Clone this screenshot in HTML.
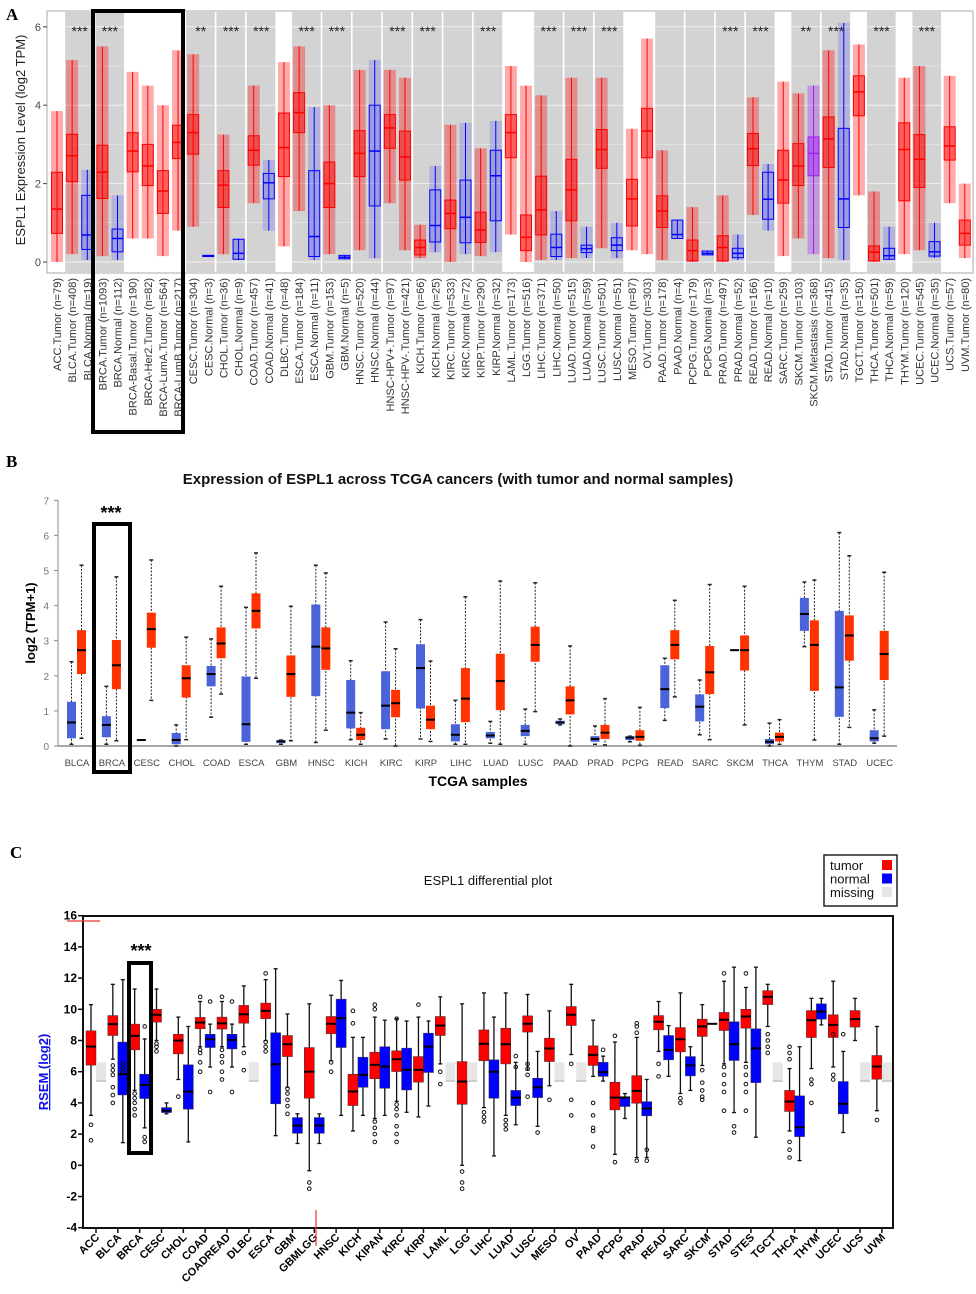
<!DOCTYPE html>
<html><head><meta charset="utf-8"><style>
html,body{margin:0;padding:0;background:#fff;}
svg{display:block;font-family:"Liberation Sans",sans-serif;}
</style></head><body>
<svg id="fig" width="976" height="1294" viewBox="0 0 976 1294" xmlns="http://www.w3.org/2000/svg">
<text x="6" y="20" font-family="Liberation Serif" font-weight="bold" font-size="17">A</text>
<text x="6" y="467" font-family="Liberation Serif" font-weight="bold" font-size="17">B</text>
<text x="10" y="858" font-family="Liberation Serif" font-weight="bold" font-size="17">C</text>
<g id="gA"></g>
<g id="gB"></g>
<g id="gC"></g>
</svg>
<script>
// ---------- Panel A data ----------
const aLab=["ACC.Tumor (n=79)","BLCA.Tumor (n=408)","BLCA.Normal (n=19)","BRCA.Tumor (n=1093)","BRCA.Normal (n=112)","BRCA-Basal.Tumor (n=190)","BRCA-Her2.Tumor (n=82)","BRCA-LumA.Tumor (n=564)","BRCA-LumB.Tumor (n=217)","CESC.Tumor (n=304)","CESC.Normal (n=3)","CHOL.Tumor (n=36)","CHOL.Normal (n=9)","COAD.Tumor (n=457)","COAD.Normal (n=41)","DLBC.Tumor (n=48)","ESCA.Tumor (n=184)","ESCA.Normal (n=11)","GBM.Tumor (n=153)","GBM.Normal (n=5)","HNSC.Tumor (n=520)","HNSC.Normal (n=44)","HNSC-HPV+.Tumor (n=97)","HNSC-HPV-.Tumor (n=421)","KICH.Tumor (n=66)","KICH.Normal (n=25)","KIRC.Tumor (n=533)","KIRC.Normal (n=72)","KIRP.Tumor (n=290)","KIRP.Normal (n=32)","LAML.Tumor (n=173)","LGG.Tumor (n=516)","LIHC.Tumor (n=371)","LIHC.Normal (n=50)","LUAD.Tumor (n=515)","LUAD.Normal (n=59)","LUSC.Tumor (n=501)","LUSC.Normal (n=51)","MESO.Tumor (n=87)","OV.Tumor (n=303)","PAAD.Tumor (n=178)","PAAD.Normal (n=4)","PCPG.Tumor (n=179)","PCPG.Normal (n=3)","PRAD.Tumor (n=497)","PRAD.Normal (n=52)","READ.Tumor (n=166)","READ.Normal (n=10)","SARC.Tumor (n=259)","SKCM.Tumor (n=103)","SKCM.Metastasis (n=368)","STAD.Tumor (n=415)","STAD.Normal (n=35)","TGCT.Tumor (n=150)","THCA.Tumor (n=501)","THCA.Normal (n=59)","THYM.Tumor (n=120)","UCEC.Tumor (n=545)","UCEC.Normal (n=35)","UCS.Tumor (n=57)","UVM.Tumor (n=80)"];
const aType="TTNTNTTTTTNTNTNTTNTNTNTTTNTNTNTTTNTNTNTTTNTNTNTNTTMTNTTNTTNTT";
const aQ1=[0.73,2.05,0.32,1.62,0.26,2.3,1.95,1.24,2.64,2.75,0.14,1.39,0.07,2.47,1.61,2.18,3.3,0.14,1.39,0.08,2.18,1.43,2.9,2.09,0.18,0.51,0.85,0.49,0.5,1.05,2.66,0.29,0.69,0.14,1.05,0.24,2.39,0.29,0.92,2.66,0.88,0.6,0.03,0.18,0.03,0.11,2.46,1.09,1.5,1.95,2.2,2.41,0.88,3.73,0.03,0.07,1.56,1.9,0.15,2.6,0.43];
const aMed=[1.35,2.71,0.69,2.29,0.6,2.83,2.45,1.81,3.05,3.3,0.16,1.96,0.22,2.85,2.02,2.92,3.81,0.65,2.0,0.12,2.77,2.83,3.42,2.68,0.37,0.93,1.24,1.14,0.82,2.2,3.3,0.63,1.33,0.37,1.84,0.34,2.87,0.43,1.61,3.34,1.3,0.7,0.29,0.22,0.37,0.22,2.89,1.6,2.09,2.45,2.77,3.14,1.61,4.34,0.25,0.16,2.87,2.62,0.26,2.96,0.73];
const aQ3=[2.29,3.26,1.7,2.98,0.84,3.3,3.0,2.33,3.49,3.76,0.17,2.33,0.58,3.22,2.26,3.8,4.32,2.33,2.55,0.17,3.35,4.0,3.76,3.34,0.56,1.84,1.58,2.09,1.27,2.85,3.76,1.2,2.19,0.71,2.62,0.43,3.38,0.62,2.11,3.92,1.69,1.07,0.56,0.28,0.67,0.35,3.28,2.29,2.85,3.02,3.19,3.7,3.41,4.75,0.41,0.35,3.55,3.25,0.52,3.45,1.07];
const aLo=[0,0.2,0.05,0.15,0.05,0.6,0.6,0.15,0.8,0.9,0.14,0.2,0.05,1.5,0.8,0.4,1.3,0.05,0.2,0.08,0.3,0.1,1.5,0.3,0.1,0.25,0,0.2,0.15,0.25,0.7,0,0.05,0.05,0.1,0.1,0.35,0.1,0.3,0.2,0.05,0.6,0,0.18,0,0.05,1.2,0.8,0.15,0.6,0.2,0.1,0.05,1.7,0,0.05,0.2,0.3,0.1,1.5,0.1];
const aHi=[3.85,5.15,2.35,5.5,1.7,4.85,4.5,4.0,5.4,5.3,0.17,3.25,0.6,4.5,2.6,5.1,5.5,3.95,4.0,0.17,4.9,5.15,4.9,4.7,0.95,2.45,3.5,3.55,2.9,3.6,5.0,4.5,4.25,1.3,4.7,0.9,4.7,1.0,3.4,5.7,2.85,1.07,1.4,0.28,1.7,0.7,4.2,2.5,4.6,4.3,4.5,5.4,6.1,5.55,1.8,0.9,4.7,5.0,1.0,4.75,2.0];
const aBands=[1,3,9,11,13,16,18,20,22,24,26,28,32,34,36,40,42,44,46,49,51,54,57];
const aStarIdx=[1,3,9,11,13,16,18,22,24,28,32,34,36,44,46,49,51,54,57];
const aStarTxt=["***","***","**","***","***","***","***","***","***","***","***","***","***","***","***","**","***","***","***"];
const aTicks=[0,2,4,6];

// ---------- Panel B data ----------
const bLab=["BLCA","BRCA","CESC","CHOL","COAD","ESCA","GBM","HNSC","KICH","KIRC","KIRP","LIHC","LUAD","LUSC","PAAD","PRAD","PCPG","READ","SARC","SKCM","THCA","THYM","STAD","UCEC"];
const bNq1=[0.22,0.25,0.17,0.05,1.7,0.12,0.08,1.42,0.5,0.48,1.07,0.13,0.22,0.28,0.62,0.12,0.17,1.08,0.7,2.73,0.05,3.28,0.83,0.13];
const bNmed=[0.67,0.6,0.17,0.17,2.05,0.62,0.13,2.83,0.95,1.15,2.22,0.32,0.3,0.43,0.67,0.2,0.24,1.62,1.12,2.73,0.12,3.76,1.67,0.22];
const bNq3=[1.26,0.85,0.17,0.37,2.28,1.98,0.17,4.03,1.88,2.13,2.9,0.62,0.4,0.6,0.72,0.28,0.28,2.3,1.47,2.73,0.2,4.22,3.85,0.45];
const bNlo=[0.05,0.05,0.17,0,0.82,0.05,0.05,0.1,0.18,0.2,0.2,0.05,0.08,0.05,0.6,0.05,0.12,0.73,0.32,2.73,0,2.83,0.05,0.08];
const bNhi=[2.4,1.7,0.17,0.6,3.05,3.95,0.17,5.15,2.43,3.53,3.6,1.3,0.7,1.05,0.77,0.57,0.28,2.5,1.88,2.73,0.65,4.67,6.08,1.03];
const bTq1=[2.05,1.62,2.8,1.38,2.5,3.35,1.4,2.17,0.17,0.82,0.48,0.68,1.02,2.4,0.9,0.2,0.15,2.47,1.48,2.15,0.13,1.57,2.43,1.88];
const bTmed=[2.73,2.3,3.33,1.93,2.92,3.85,2.05,2.78,0.32,1.22,0.75,1.35,1.85,2.88,1.3,0.38,0.26,2.88,2.1,2.73,0.26,2.88,3.15,2.62];
const bTq3=[3.3,3.02,3.8,2.3,3.38,4.35,2.58,3.38,0.52,1.6,1.15,2.22,2.63,3.4,1.7,0.6,0.45,3.3,2.85,3.15,0.38,3.58,3.72,3.28];
const bTlo=[0.22,0.15,1.3,0.18,1.48,1.93,0.15,0.45,0.05,0,0.13,0.05,0.05,0.98,0,0.03,0.02,1.4,0.18,0.6,0.05,0.17,0.53,0.28];
const bThi=[5.15,4.82,5.3,3.1,4.55,5.5,3.98,4.93,0.95,2.77,2.42,4.25,4.7,4.65,2.85,1.35,1.1,4.15,4.6,4.55,0.75,4.73,5.42,4.95];
const bTicks=[0,1,2,3,4,5,6,7];

// ---------- Panel C data ----------
const cLab=["ACC","BLCA","BRCA","CESC","CHOL","COAD","COADREAD","DLBC","ESCA","GBM","GBMLGG","HNSC","KICH","KIPAN","KIRC","KIRP","LAML","LGG","LIHC","LUAD","LUSC","MESO","OV","PAAD","PCPG","PRAD","READ","SARC","SKCM","STAD","STES","TGCT","THCA","THYM","UCEC","UCS","UVM"];
const cTq1=[6.42,8.32,7.4,9.18,7.14,8.75,8.73,9.11,9.4,6.97,4.3,8.43,3.83,5.55,6.01,5.33,8.32,3.91,6.7,6.5,8.54,6.65,8.96,6.4,3.55,3.98,8.68,7.27,8.26,8.64,8.79,10.3,3.45,8.19,8.19,8.86,5.52];
const cTmed=[7.61,9.05,8.3,9.65,8.0,9.15,9.1,9.68,9.9,7.76,6.0,9.07,4.73,6.44,6.8,6.12,8.96,5.37,7.79,7.76,9.07,7.49,9.65,7.08,4.34,4.77,9.2,8.08,8.9,9.33,9.54,10.8,4.09,9.3,9.0,9.37,6.33];
const cTq3=[8.62,9.6,9.05,10.0,8.4,9.48,9.5,10.25,10.4,8.32,7.55,9.54,5.84,7.25,7.34,6.97,9.54,6.65,8.68,8.79,9.58,8.15,10.18,7.66,5.33,5.75,9.6,8.83,9.37,9.8,10.0,11.2,4.8,9.92,9.65,9.92,7.04];
const cTlo=[3.2,6.8,4.8,8.0,5.5,7.6,7.6,7.6,8.0,5.0,-0.35,6.7,2.2,3.0,4.1,3.1,6.5,0,3.7,3.2,6.1,5.1,7.1,5.7,0.7,0.5,7.3,4.6,6.4,6.5,6.6,8.9,2.2,6.2,6.3,8.0,3.5];
const cThi=[10.3,11.6,11.3,11.3,9.5,10.5,10.5,11.5,11.9,9.7,10.35,10.9,8.2,9.5,9.4,9.5,10.8,10.35,11.05,11.05,10.95,9.9,11.6,9.3,7.9,8.2,10.5,11.05,10.3,11.8,11.4,11.6,6.2,10.7,11.8,10.7,8.9];
const cNq1=[null,4.51,4.28,3.38,3.6,7.55,7.46,null,3.94,2.05,2.05,7.55,5.0,4.94,4.83,5.95,null,null,4.3,3.83,4.34,null,null,5.7,3.77,3.17,6.76,5.73,9.07,6.72,5.3,null,1.84,9.37,3.3,null,null];
const cNmed=[null,5.84,5.15,3.5,4.73,8.08,8.04,null,6.48,2.55,2.55,9.43,5.8,6.33,6.12,7.61,null,null,6.0,4.34,5.0,null,null,5.97,4.34,3.64,7.4,6.4,9.07,7.76,7.5,null,2.44,9.86,3.94,null,null];
const cNq3=[null,7.9,5.84,3.7,6.44,8.4,8.4,null,8.5,3.06,3.06,10.65,6.93,7.6,7.51,8.47,null,null,6.76,4.8,5.58,null,null,6.6,4.4,4.08,8.32,6.97,9.07,9.2,8.75,null,4.45,10.35,5.37,null,null];
const cNlo=[null,1.45,2.4,3.3,1.5,6.3,6.3,null,1.9,1.4,1.4,3.2,3.2,3.2,3.4,3.8,null,null,0.6,2.6,2.5,null,null,5.4,3.0,0.5,5.7,4.8,9.07,3.38,1.8,null,0.3,9.0,2.1,null,null];
const cNhi=[null,11.9,8.1,4.0,8.9,9.05,9.05,null,12.6,3.3,3.3,11.85,8.2,9.3,9.25,9.25,null,null,9.5,6.6,7.3,null,null,7.0,4.6,5.5,8.95,7.6,9.07,12.7,12.7,null,7.6,10.7,7.3,null,null];
const cTout=[[2.6,1.6],[6.4,6.1,5.8,5.0,4.5,4.0],[4.6,4.3,4.0,3.6,3.2],[7.8,7.6,7.3],[4.4],[7.4,7.2,6.6,6.0,10.8],[7.4,7.0,6.6,6.0,5.5,10.8],[7.2,6.1],[7.9,7.6,7.3,12.3],[4.9,4.6,4.2,3.8,3.3],[-1.1,-1.5],[6.6,6.0],[9.1,9.9],[2.8,2.4,2.0,1.5,10.0,10.3],[3.9,3.6,3.2,2.5,2.0,1.5,9.4],[10.3],[6.0,5.2],[-0.4,-1.1,-1.5],[3.4,3.1,2.8],[2.9,2.6,2.3],[6.5,6.2,5.8,4.4],[4.2],[6.5,4.2,3.2],[4.0,3.2,2.4,2.2,1.2],[8.3,0.2],[8.5,8.9,9.1,0.3],[6.5,5.7],[4.3,4.0],[6.1,5.3,4.8,4.4,4.2],[12.3,6.3,5.8,5.2,4.7,3.5],[12.3,6.3,5.8,5.2,4.7,3.5],[8.4,8.0,7.6,7.2],[7.6,7.2,6.8,1.5,1.0,0.5],[5.2,5.5,4.0],[5.8,5.5,8.4],[],[2.9]];
const cNout=[[],[6.5,6.2,6.0],[8.9,1.8,1.5],[],[],[4.7,10.5],[4.7,10.5],[],[],[],[],[],[],[],[],[],[],[],[],[7.0,6.3],[2.1],[],[],[7.4],[],[1.0,0.3],[],[],[],[2.5,2.1],[],[],[],[],[8.4],[],[]];
const cTicks=[-4,-2,0,2,4,6,8,10,12,14,16];

// ---------- helpers ----------
const NS="http://www.w3.org/2000/svg";
function mk(parent,tag,attrs,txt){const e=document.createElementNS(NS,tag);for(const k in attrs)e.setAttribute(k,attrs[k]);if(txt!==undefined)e.textContent=txt;parent.appendChild(e);return e;}
let el;

// ---------- Panel A ----------
(function(){
const g=document.getElementById('gA');
const xA=i=>57+15.13*i, yA=v=>262-39.2*v;
el=mk(g,'rect',{x:47,y:11,width:926,height:262,fill:'#fff',stroke:'#aaa','stroke-width':1});


aBands.forEach(i=>{
  el=mk(g,'rect',{x:xA(i)-7,y:12,width:15.13+13.5,height:260,fill:'#d3d3d3'});
  
  
});
[0,1,2,3,4,5,6].forEach(v=>{
  el=mk(g,'line',{x1:48,x2:972,y1:yA(v),y2:yA(v),stroke:'#fff','stroke-width':v%2?0.5:1,opacity:0.7});
  
  
});
aTicks.forEach(v=>{
  el=mk(g,'text',{x:41,y:yA(v)+4,'font-size':11,fill:'#444','text-anchor':'end'},String(v));
  
  
  el=mk(g,'line',{x1:43,x2:47,y1:yA(v),y2:yA(v),stroke:'#444'});
  
  
});
el=mk(g,'text',{x:0,y:0,'font-size':13,fill:'#222','text-anchor':'middle',transform:'translate(25,140) rotate(-90)'},'ESPL1 Expression Level (log2 TPM)');


aLab.forEach((lab,i)=>{
  const t=aType[i];
  const col=t==='T'?'#ff0000':(t==='N'?'#0000ff':'#a020f0');
  const x=xA(i);
  const big=t!=='N';
  el=mk(g,'rect',{x:x-6,y:yA(aHi[i]),width:12,height:Math.max(1,yA(aLo[i])-yA(aHi[i])),fill:col,opacity:big?0.33:0.15});
  
  
  el=mk(g,'line',{x1:x,x2:x,y1:yA(aHi[i]),y2:yA(aLo[i]),stroke:col,'stroke-width':1});
  
  
  el=mk(g,'rect',{x:x-5.5,y:yA(aQ3[i]),width:11,height:Math.max(1,yA(aQ1[i])-yA(aQ3[i])),fill:col,'fill-opacity':big?0.45:0.12,stroke:col,'stroke-width':1});
  
  
  el=mk(g,'line',{x1:x-5.5,x2:x+5.5,y1:yA(aMed[i]),y2:yA(aMed[i]),stroke:col,'stroke-width':1.5});
  
  
  el=mk(g,'text',{x:0,y:0,'font-size':11,fill:'#333','text-anchor':'end',transform:`translate(${x+4},278) rotate(-90)`},lab);
  
  
});
aStarIdx.forEach((i,k)=>{
  el=mk(g,'text',{x:(xA(i)+xA(i+1))/2,y:yA(6)+9,'font-size':14,fill:'#222','text-anchor':'middle'},aStarTxt[k]);
  
  
});
el=mk(g,'rect',{x:93,y:11,width:90,height:421,fill:'none',stroke:'#000','stroke-width':4});


})();

// ---------- Panel B ----------
(function(){
const g=document.getElementById('gB');
const xB=i=>76+34.9*i, yB=v=>746-35.1*v;
el=mk(g,'text',{x:458,y:484,'font-size':15,'font-weight':'bold','text-anchor':'middle',fill:'#111'},'Expression of ESPL1 across TCGA cancers (with tumor and normal samples)');


el=mk(g,'line',{x1:58,x2:58,y1:500,y2:746,stroke:'#888'});


el=mk(g,'line',{x1:58,x2:897,y1:746,y2:746,stroke:'#888','stroke-width':1.5});


bTicks.forEach(v=>{
  el=mk(g,'line',{x1:54,x2:58,y1:yB(v),y2:yB(v),stroke:'#888'});
  
  
  el=mk(g,'text',{x:49,y:yB(v)+4,'font-size':10,fill:'#777','text-anchor':'end'},String(v));
  
  
});
el=mk(g,'text',{x:0,y:0,'font-size':13,'font-weight':'bold','text-anchor':'middle',transform:'translate(35,623) rotate(-90)'},'log2 (TPM+1)');


el=mk(g,'text',{x:478,y:786,'font-size':14,'font-weight':'bold','text-anchor':'middle'},'TCGA samples');


function box(x,q1,med,q3,lo,hi,col,name){
  el=mk(g,'line',{x1:x,x2:x,y1:yB(hi),y2:yB(lo),stroke:'#222','stroke-width':1,'stroke-dasharray':'2,1.5'});
  
  
  [hi,lo].forEach(v=>{
    el=mk(g,'line',{x1:x-2,x2:x+2,y1:yB(v),y2:yB(v),stroke:'#222','stroke-width':1.5});
    
    
  });
  if(q3>q1){
    el=mk(g,'rect',{x:x-4.5,y:yB(q3),width:9,height:yB(q1)-yB(q3),fill:col});
    
    
  }
  el=mk(g,'line',{x1:x-4.5,x2:x+4.5,y1:yB(med),y2:yB(med),stroke:'#000','stroke-width':2});
  
  
}
bLab.forEach((lab,i)=>{
  const c=xB(i);
  box(c-4.5,bNq1[i],bNmed[i],bNq3[i],bNlo[i],bNhi[i],'#4a63d8','normal-box');
  box(c+5.5,bTq1[i],bTmed[i],bTq3[i],bTlo[i],bThi[i],'#ff3300','tumor-box');
  el=mk(g,'text',{x:c+1,y:766,'font-size':9.5,fill:'#444','text-anchor':'middle'},lab);
  
  
});
el=mk(g,'rect',{x:94,y:524,width:36,height:248,fill:'none',stroke:'#000','stroke-width':4});


el=mk(g,'text',{x:111,y:519,'font-size':18,'font-weight':'bold','text-anchor':'middle'},'***');


})();

// ---------- Panel C ----------
(function(){
const g=document.getElementById('gC');
const xC=i=>96+21.83*i, yC=v=>915.7+15.6*(16-v);
el=mk(g,'text',{x:488,y:885,'font-size':13,'text-anchor':'middle',fill:'#111'},'ESPL1 differential plot');


el=mk(g,'rect',{x:824,y:855,width:73,height:51,fill:'#fff',stroke:'#222','stroke-width':1.5});


[['tumor','#ff0000'],['normal','#0000ff'],['missing','#e6e6e6']].forEach((d,k)=>{
  el=mk(g,'text',{x:830,y:870+k*13.5,'font-size':13,fill:'#111'},d[0]);
  
  
  el=mk(g,'rect',{x:882,y:860+k*13.5,width:10,height:10,fill:d[1]});
  
  
});
el=mk(g,'rect',{x:83,y:916,width:810,height:312,fill:'none',stroke:'#111','stroke-width':2});


cTicks.forEach(v=>{
  el=mk(g,'line',{x1:78,x2:83,y1:yC(v),y2:yC(v),stroke:'#111','stroke-width':1.5});
  
  
  el=mk(g,'text',{x:77,y:yC(v)+4,'font-size':12,'font-weight':'bold','text-anchor':'end'},String(v));
  
  
});
el=mk(g,'text',{x:0,y:0,'font-size':13,'font-weight':'bold',fill:'#1010ee','text-anchor':'middle','text-decoration':'underline',transform:'translate(48,1072) rotate(-90)'},'RSEM (log2)');


function box(x,q1,med,q3,lo,hi,col,outs,name){
  el=mk(g,'line',{x1:x,x2:x,y1:yC(hi),y2:yC(lo),stroke:'#111','stroke-width':1.3});
  
  
  [hi,lo].forEach(v=>{
    el=mk(g,'line',{x1:x-2,x2:x+2,y1:yC(v),y2:yC(v),stroke:'#111','stroke-width':1.3});
    
    
  });
  if(q3>q1){
    el=mk(g,'rect',{x:x-5,y:yC(q3),width:10,height:yC(q1)-yC(q3),fill:col,stroke:'#333','stroke-width':0.5});
    
    
  }
  el=mk(g,'line',{x1:x-5,x2:x+5,y1:yC(med),y2:yC(med),stroke:'#000','stroke-width':2});
  
  
  outs.forEach(v=>{
    el=mk(g,'circle',{cx:x,cy:yC(v),r:1.8,fill:'none',stroke:'#111','stroke-width':1});
    
    
  });
}
cLab.forEach((lab,i)=>{
  const t=xC(i);
  el=mk(g,'line',{x1:t,x2:t,y1:1228,y2:1233,stroke:'#111','stroke-width':1.5});
  
  
  box(t-5,cTq1[i],cTmed[i],cTq3[i],cTlo[i],cThi[i],'#ff0000',cTout[i],'tumor-box');
  if(cNq1[i]===null){
    el=mk(g,'rect',{x:t,y:yC(6.6),width:10,height:yC(5.4)-yC(6.6),fill:'#e6e6e6'});
    
    
    el=mk(g,'line',{x1:t,x2:t+10,y1:yC(5.4),y2:yC(5.4),stroke:'#aaa','stroke-width':1});
    
    
  } else {
    box(t+5,cNq1[i],cNmed[i],cNq3[i],cNlo[i],cNhi[i],'#0000ff',cNout[i],'normal-box');
  }
  el=mk(g,'text',{x:0,y:0,'font-size':11,'font-weight':'bold','text-anchor':'end',transform:`translate(${t+4},1238) rotate(-45)`},lab);
  
  
});
el=mk(g,'line',{x1:67,x2:100,y1:921,y2:921,stroke:'#e33','stroke-width':1.2});


el=mk(g,'line',{x1:316,x2:316,y1:1210,y2:1246,stroke:'#e33','stroke-width':1.2});


el=mk(g,'rect',{x:129,y:963,width:22,height:190,fill:'none',stroke:'#000','stroke-width':4});


el=mk(g,'text',{x:141,y:957,'font-size':18,'font-weight':'bold','text-anchor':'middle'},'***');


})();
</script>
</body></html>
